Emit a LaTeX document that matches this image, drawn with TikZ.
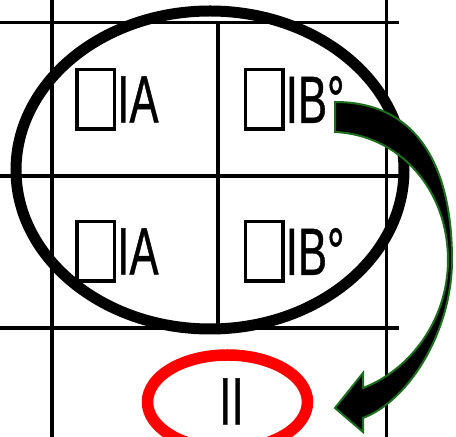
\documentclass[tikz,border=0pt]{standalone}
\usepackage{xcolor}
\usepackage{fontspec}
\setmainfont{Liberation Sans}
\newfontfamily\narrowfont[FakeStretch=0.65,FakeBold=0.6]{Liberation Sans}
\usepackage{tikz}
\usetikzlibrary{positioning}
\definecolor{ringred}{HTML}{FF0000}
\definecolor{edgegreen}{HTML}{1B6E1B}

\begin{document}
\begin{tikzpicture}[x=0.5pt,y=-0.5pt,
  grid/.style={line width=1.75pt,black},
  tofu/.style={draw,line width=1.75pt,minimum width=18.75pt,minimum height=29.75pt,inner sep=0pt},
  lbl/.style={font=\narrowfont\fontsize{33.5}{34}\selectfont,inner sep=0pt,text=black},
  ring/.style={line width=5.5pt}]
  \useasboundingbox (0,0) rectangle (456,437);
  \fill[white] (0,0) rectangle (456,437);
  % table lines
  \foreach \y in {22.5,176,328} \draw[grid] (0,\y)--(399,\y);
  \foreach \x in {52,386.5} \draw[grid] (\x,0)--(\x,437);
  \draw[grid] (218,22.5)--(218,328);
  % cells
  \foreach \n/\x/\y/\t in {a1/95.5/99.5/IA,b1/264/99.5/IB°,a2/95.5/251.5/IA,b2/264/251.5/IB°} {
    \node[tofu] (box\n) at (\x,\y) {};
    \node[lbl,right=0.5pt of box\n] (txt\n) {\t};
  }
  \draw[ring] (210,170) ellipse [x radius=194, y radius=159];
  % result
  \node[lbl] (res) at (231.5,401.5) {II};
  \draw[ring,ringred,line width=5.75pt] (227.5,402) ellipse [x radius=80, y radius=47];
  % curved arrow
  \coordinate (arrfrom) at (335,102);
  \coordinate (arrtip) at (335,408);
  \filldraw[fill=black,draw=edgegreen,line width=1pt] (arrfrom)
    .. controls (420,102) and (452,170) .. (452,260)
    .. controls (452,330) and (410,400) .. (363,418)
    -- (363,432) -- (arrtip) -- (363,373) -- (363,388)
    .. controls (410,370) and (448,320) .. (448,260)
    .. controls (448,190) and (400,135) .. (335,132) -- cycle;
\end{tikzpicture}
\end{document}
